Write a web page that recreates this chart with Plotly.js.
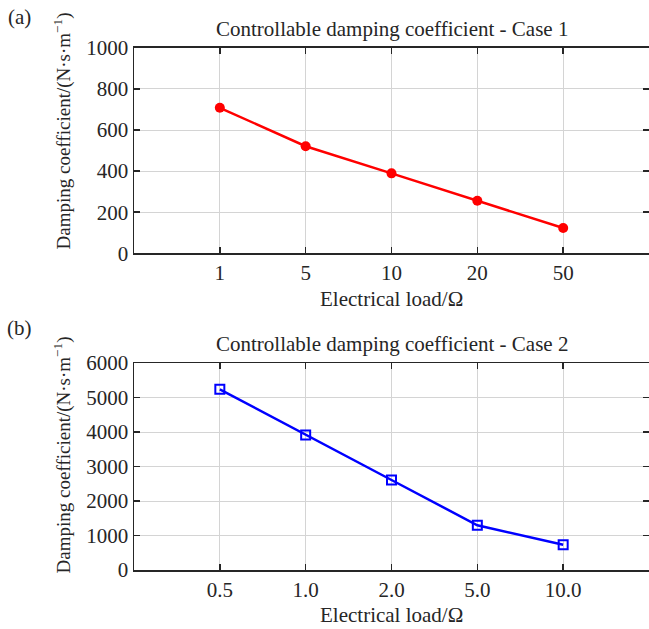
<!DOCTYPE html>
<html>
<head>
<meta charset="utf-8">
<script src="https://cdn.plot.ly/plotly-3.0.1.min.js"></script>
<style>html,body{margin:0;padding:0;background:#fff;}#chart{width:649px;height:629px;}</style>
</head>
<body>
<div id="chart"></div>
<script>
// Case 1 data
const loadsCase1 = ["1", "5", "10", "20", "50"];
const dampingCase1 = [708, 521, 389, 256, 123];
// Case 2 data
const loadsCase2 = ["0.5", "1.0", "2.0", "5.0", "10.0"];
const dampingCase2 = [5238, 3913, 2609, 1296, 733];

const titleCase1 = "Controllable damping coefficient - Case 1";
const titleCase2 = "Controllable damping coefficient - Case 2";
const xTitle = "Electrical load/Ω";
const yTitle = "Damping coefficient/(N·s·m<sup>−1</sup>)";

const FONT = "Liberation Serif, Times New Roman, serif";
const TXT = "#262626";
const FS = 21;
const H = 629;
const py = v => 1 - v / H; // pixel -> paper

const traces = [
  {x: loadsCase1, y: dampingCase1, xaxis: "x", yaxis: "y", mode: "lines+markers",
   line: {color: "#ff0000", width: 2.5},
   marker: {symbol: "circle", size: 10, color: "#ff0000"}, showlegend: false},
  {x: loadsCase2, y: dampingCase2, xaxis: "x2", yaxis: "y2", mode: "lines+markers",
   line: {color: "#0000ff", width: 2.5},
   marker: {symbol: "square-open", size: 9, color: "#0000ff", line: {width: 2, color: "#0000ff"}}, showlegend: false}
];

const xCommon = {
  type: "category", range: [-1, 5], showgrid: true, gridcolor: "#d4d4d4", gridwidth: 1,
  showline: true, linecolor: TXT, linewidth: 1.5, mirror: "ticks",
  ticks: "inside", ticklen: 6, tickcolor: TXT, tickwidth: 1.5,
  tickfont: {family: FONT, size: FS, color: TXT}, zeroline: false, fixedrange: true
};
const yCommon = {
  showgrid: true, gridcolor: "#d4d4d4", gridwidth: 1,
  showline: true, linecolor: TXT, linewidth: 1.5, mirror: "ticks",
  ticks: "inside", ticklen: 6, tickcolor: TXT, tickwidth: 1.5,
  tickfont: {family: FONT, size: FS, color: TXT}, zeroline: false, fixedrange: true
};

const ann = (text, x, y, extra) => Object.assign({
  text: text, xref: "paper", yref: "paper", x: x, y: y, showarrow: false,
  xanchor: "center", yanchor: "middle", font: {family: FONT, size: FS, color: TXT}
}, extra || {});

const layout = {
  width: 649, height: 629,
  margin: {l: 134, r: 0, t: 0, b: 0},
  paper_bgcolor: "#ffffff", plot_bgcolor: "#ffffff",
  font: {family: FONT, size: FS, color: TXT},
  xaxis: Object.assign({}, xCommon, {anchor: "y", domain: [0, 1]}),
  yaxis: Object.assign({}, yCommon, {anchor: "x", domain: [py(253.3), py(47.8)], range: [0, 1000], dtick: 200}),
  xaxis2: Object.assign({}, xCommon, {anchor: "y2", domain: [0, 1]}),
  yaxis2: Object.assign({}, yCommon, {anchor: "x2", domain: [py(570), py(363)], range: [0, 6000], dtick: 1000}),
  annotations: [
    ann(titleCase1, 0.5, py(29)),
    ann(titleCase2, 0.5, py(344)),
    ann("(a)", -0.222, py(17)),
    ann("(b)", -0.222, py(328)),
    ann(xTitle, 0.5, py(299)),
    ann(xTitle, 0.5, py(615)),
    ann(yTitle, -0.139, py(131), {textangle: -90, font: {family: FONT, size: 19, color: TXT}}),
    ann(yTitle, -0.139, py(455), {textangle: -90, font: {family: FONT, size: 19, color: TXT}})
  ]
};

Plotly.newPlot("chart", traces, layout, {displayModeBar: false, staticPlot: true});
</script>
</body>
</html>
